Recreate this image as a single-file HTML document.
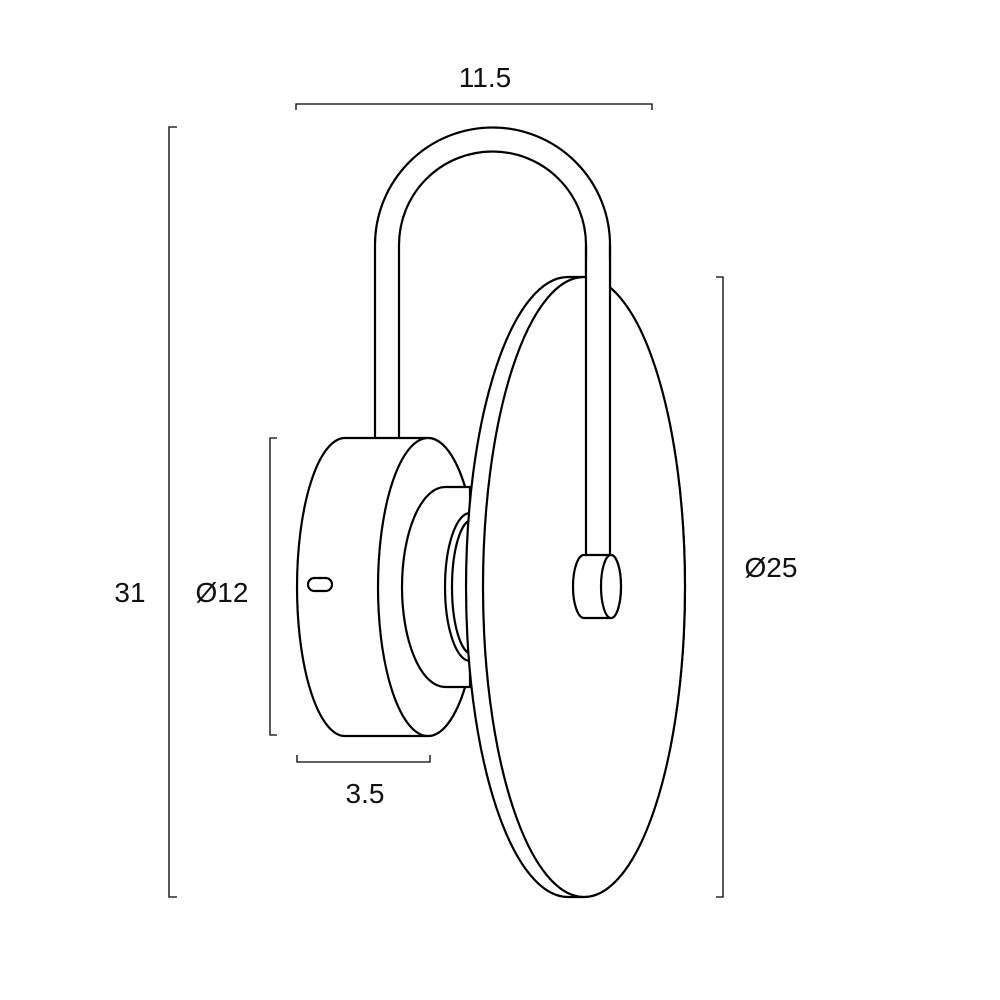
<!DOCTYPE html>
<html><head><style>
html,body{margin:0;padding:0;background:#fff;}
svg{display:block;}
text{font-family:"Liberation Sans",sans-serif;font-size:28px;fill:#111;}
</style></head><body>
<svg width="1000" height="1000" viewBox="0 0 1000 1000" xmlns="http://www.w3.org/2000/svg">
<g fill="none" stroke="#000" stroke-width="1.3">
<path d="M296 110V104H652V110"/>
<path d="M177 127H169V897H177"/>
<path d="M277 438H270V735H277"/>
<path d="M297 755V762H430V755"/>
<path d="M716 277H723V897H716"/>
</g>
<text x="485" y="87" text-anchor="middle">11.5</text>
<text x="130" y="602" text-anchor="middle">31</text>
<text x="222" y="602" text-anchor="middle">Ø12</text>
<text x="365" y="803" text-anchor="middle">3.5</text>
<text x="771" y="577" text-anchor="middle">Ø25</text>
<g fill="#fff" stroke="#000" stroke-width="2.2">
<path d="M375 438V245A117.5 117.5 0 0 1 610 245V290M586 290V245A93.5 93.5 0 0 0 399 245V438" fill="none"/>
<path d="M345 438H428A50 149 0 0 1 428 736H345A48 149 0 0 1 345 438Z"/>
<ellipse cx="428" cy="587" rx="50" ry="149"/>
<rect x="308" y="578" width="24" height="13" rx="6.5"/>
<path d="M445 487H470V687H445A43 100 0 0 1 445 487Z"/>
<path d="M470 513A25 74 0 0 0 470 661" fill="none"/>
<path d="M472 520A20 67 0 0 0 472 654" fill="none"/>
<path d="M568 277H583A102 310 0 0 1 583 897H568A102 310 0 0 1 568 277Z"/>
<ellipse cx="584" cy="587" rx="101" ry="310"/>
<rect x="587" y="260" width="22" height="296" stroke="none"/>
<path d="M586 245V556M610 245V556" fill="none"/>
<path d="M584 555H611A10 31.5 0 0 1 611 618H584A11 31.5 0 0 1 584 555Z"/>
<ellipse cx="611" cy="586.5" rx="10" ry="31.5"/>
</g>
</svg>
</body></html>
